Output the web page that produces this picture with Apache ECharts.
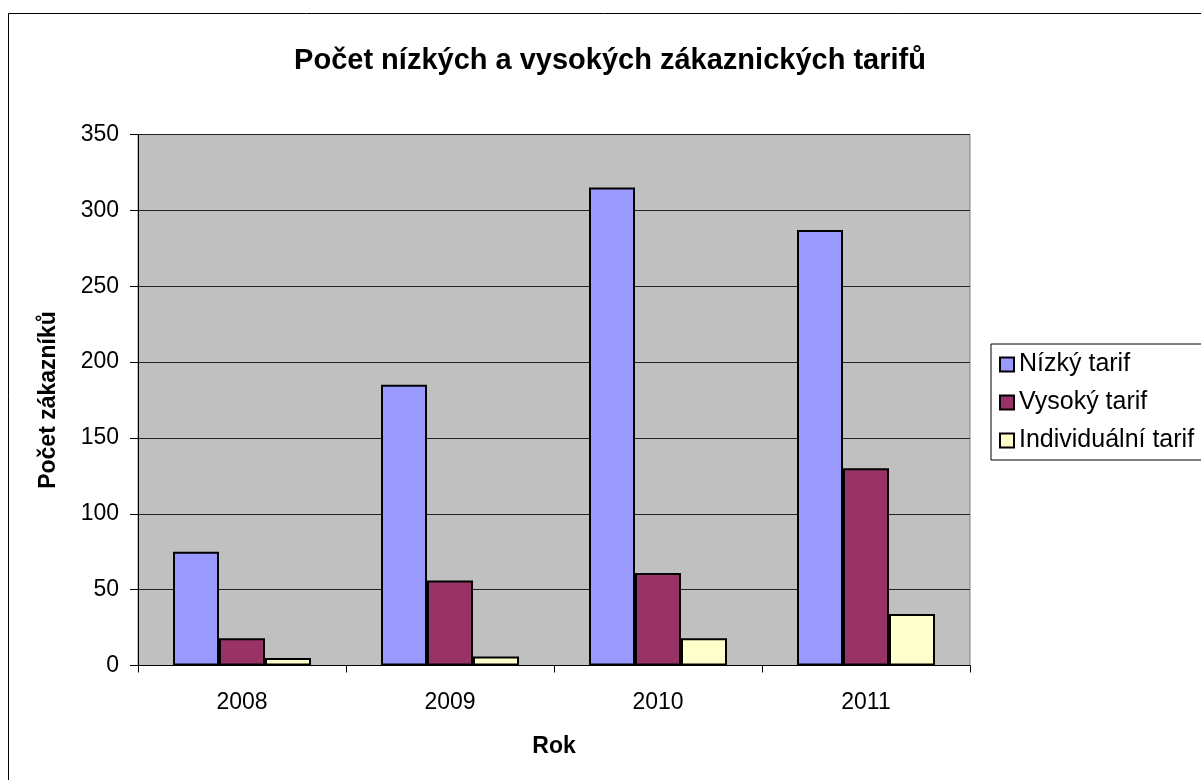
<!DOCTYPE html>
<html>
<head>
<meta charset="utf-8">
<script src="https://cdn.jsdelivr.net/npm/echarts@6/dist/echarts.min.js"></script>
<style>
  html, body { margin: 0; padding: 0; background: #fff; }
  #charts { width: 1201px; height: 780px; }
</style>
</head>
<body>
<div id="charts"></div>
<script>
var years = ['2008', '2009', '2010', '2011'];
var nizky = [75, 185, 315, 287];
var vysoky = [18, 56, 61, 130];
var individualni = [5, 6, 18, 34];
var seriesNames = ['Nízký tarif', 'Vysoký tarif', 'Individuální tarif'];
var colors = ['#9999ff', '#993366', '#ffffcc'];

var chart = echarts.init(document.getElementById('charts'));
var font = 'Liberation Sans, Arial, sans-serif';

function bar(name, data, color) {
    return {
        name: name,
        type: 'bar',
        data: data,
        barWidth: 46,
        barGap: '0%',
        itemStyle: { color: color, borderColor: '#000', borderWidth: 2 }
    };
}

var option = {
    animation: false,
    textStyle: { fontFamily: font },
    title: {
        text: 'Počet nízkých a vysokých zákaznických tarifů',
        left: 605,
        textAlign: 'center',
        top: 41,
        textStyle: { fontSize: 29, fontWeight: 'bold', color: '#000', fontFamily: font }
    },
    legend: {
        orient: 'vertical',
        left: 991,
        top: 344,
        padding: [8, 40, 7, 8],
        itemGap: 13,
        itemWidth: 14,
        itemHeight: 14,
        icon: 'rect',
        borderColor: '#000',
        borderWidth: 1,
        backgroundColor: '#fff',
        data: seriesNames,
        textStyle: { fontSize: 25, lineHeight: 24, color: '#000', fontFamily: font, padding: [0, 0, 0, 0] }
    },
    grid: {
        left: 138, right: 231, top: 134.5, bottom: 114.5,
        show: true, backgroundColor: '#c0c0c0', borderColor: '#808080', borderWidth: 1
    },
    xAxis: {
        type: 'category',
        data: years,
        name: 'Rok',
        nameLocation: 'middle',
        nameGap: 70,
        nameTextStyle: { fontSize: 23, fontWeight: 'bold', color: '#000' },
        axisLine: { lineStyle: { color: '#000', width: 1 } },
        axisTick: { show: true, length: 7, lineStyle: { color: '#000' } },
        axisLabel: { fontSize: 23, color: '#000', margin: 26 }
    },
    yAxis: {
        type: 'value',
        min: 0, max: 350, interval: 50,
        name: 'Počet zákazníků',
        nameLocation: 'middle',
        nameGap: 78,
        nameTextStyle: { fontSize: 23, fontWeight: 'bold', color: '#000' },
        axisLine: { show: true, lineStyle: { color: '#000', width: 1 } },
        axisTick: { show: true, length: 8, lineStyle: { color: '#000' } },
        axisLabel: { fontSize: 23, color: '#000', margin: 19 },
        splitLine: { lineStyle: { color: '#222', width: 1 } }
    },
    graphic: [{
        type: 'polyline',
        shape: { points: [[8.5, 780], [8.5, 13.5], [1201, 13.5]] },
        style: { stroke: '#000', lineWidth: 1, fill: null }
    }],
    series: [
        bar(seriesNames[0], nizky, colors[0]),
        bar(seriesNames[1], vysoky, colors[1]),
        bar(seriesNames[2], individualni, colors[2])
    ]
};

chart.setOption(option);
</script>
</body>
</html>
